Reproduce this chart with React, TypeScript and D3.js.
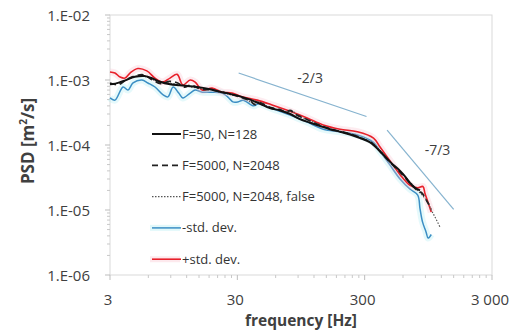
import React, { useRef, useEffect } from "react";
import * as d3 from "d3";

// [frequency Hz, PSD m²/s]
const f50n128: [number, number][] = [
  [3.0, 8.6e-4], [3.3, 8.8e-4], [3.9, 9.8e-4], [4.7, 1.12e-3], [5.6, 1.15e-3],
  [6.5, 1.05e-3], [7.4, 9.4e-4], [8.9, 8.6e-4], [10.6, 8.3e-4], [12.8, 8.0e-4],
  [15.3, 7.7e-4], [18.3, 7.2e-4], [21.9, 6.6e-4], [26.3, 6.1e-4], [31.5, 5.6e-4],
  [37.8, 5.0e-4], [45.3, 4.3e-4], [54, 3.7e-4], [65, 3.4e-4], [78, 3.0e-4],
  [93, 2.5e-4], [112, 2.2e-4], [134, 1.95e-4], [160, 1.75e-4], [192, 1.6e-4],
  [230, 1.45e-4], [276, 1.28e-4], [331, 1.1e-4], [396, 8.0e-5], [475, 5.5e-5],
  [569, 4.0e-5], [622, 3.3e-5], [681, 2.6e-5], [746, 2.2e-5], [816, 2.0e-5],
];

const f5000n2048: [number, number][] = [
  [3.0, 9.0e-4], [3.5, 8.5e-4], [4.0, 1.0e-3], [4.7, 1.15e-3], [5.5, 1.2e-3],
  [6.5, 1.0e-3], [7.5, 8.8e-4], [8.8, 9.5e-4], [10.2, 9.0e-4], [11.5, 7.8e-4],
  [13, 8.3e-4], [15.5, 7.3e-4], [19, 7.0e-4], [23, 6.5e-4], [27, 6.0e-4],
  [32, 5.4e-4], [38, 4.8e-4], [41, 4.2e-4], [45, 4.5e-4], [54, 3.8e-4],
  [65, 3.5e-4], [72, 3.2e-4], [78, 3.4e-4], [85, 3.0e-4], [100, 2.6e-4],
  [120, 2.2e-4], [140, 1.95e-4], [165, 1.75e-4], [200, 1.58e-4], [240, 1.45e-4],
  [290, 1.25e-4], [340, 1.08e-4], [400, 7.8e-5], [480, 5.3e-5], [570, 3.8e-5],
  [680, 2.6e-5], [780, 2.0e-5], [850, 1.8e-5], [900, 1.5e-5], [950, 1.25e-5],
  [1000, 1.05e-5],
];

const f5000false: [number, number][] = [
  [3.0, 8.8e-4], [3.6, 9.0e-4], [4.2, 1.05e-3], [5.0, 1.15e-3], [6.0, 1.1e-3],
  [7.0, 9.5e-4], [8.5, 9.0e-4], [10, 8.6e-4], [12, 8.0e-4], [15, 7.5e-4],
  [19, 7.0e-4], [23, 6.4e-4], [28, 5.9e-4], [34, 5.2e-4], [40, 4.4e-4],
  [44, 4.6e-4], [52, 3.9e-4], [62, 3.5e-4], [75, 3.2e-4], [80, 3.4e-4],
  [90, 2.8e-4], [110, 2.4e-4], [135, 2.0e-4], [165, 1.75e-4], [200, 1.6e-4],
  [250, 1.42e-4], [300, 1.22e-4], [350, 1.05e-4], [400, 8.0e-5], [480, 5.4e-5],
  [570, 3.9e-5], [680, 2.7e-5], [780, 2.0e-5], [850, 1.7e-5], [940, 1.3e-5],
  [1000, 1.0e-5], [1070, 7.8e-6], [1170, 5.5e-6],
];

const minusStd: [number, number][] = [
  [3.0, 5.3e-4], [3.28, 4.9e-4], [3.8, 7.8e-4], [4.15, 7.0e-4], [4.55, 9.0e-4],
  [5.35, 1.0e-3], [5.95, 9.0e-4], [6.77, 7.8e-4], [7.85, 5.9e-4], [8.55, 5.5e-4],
  [9.4, 7.8e-4], [10.4, 6.3e-4], [11.2, 5.3e-4], [12.8, 6.3e-4], [14.0, 7.0e-4],
  [15.9, 6.5e-4], [19.0, 6.5e-4], [22.8, 6.3e-4], [25.2, 5.5e-4], [27.7, 4.6e-4],
  [30.3, 4.6e-4], [33.3, 4.9e-4], [40.4, 4.0e-4], [44, 4.3e-4], [57, 3.6e-4],
  [78, 2.9e-4], [106, 2.25e-4], [142, 1.75e-4], [192, 1.6e-4], [263, 1.43e-4],
  [352, 1.1e-4], [396, 8.0e-5], [475, 4.9e-5], [569, 3.0e-5], [681, 2.1e-5],
  [783, 1.7e-5], [816, 1.05e-5], [855, 6.5e-6], [910, 4.6e-6], [945, 3.7e-6],
  [1000, 4.2e-6],
];

const plusStd: [number, number][] = [
  [3.0, 1.33e-3], [3.28, 1.28e-3], [3.6, 1.11e-3], [3.94, 1.07e-3], [4.31, 1.28e-3],
  [4.96, 1.5e-3], [5.84, 1.38e-3], [6.77, 1.07e-3], [7.75, 9.3e-4], [8.88, 1.07e-3],
  [10.1, 1.22e-3], [11.2, 8.4e-4], [12.8, 1.0e-3], [14.0, 9.3e-4], [15.9, 7.0e-4],
  [19.0, 7.5e-4], [22.8, 6.5e-4], [27.3, 6.3e-4], [32.8, 5.5e-4], [43, 4.9e-4],
  [57, 4.1e-4], [78, 3.3e-4], [106, 2.6e-4], [142, 2.03e-4], [192, 1.75e-4],
  [263, 1.6e-4], [352, 1.28e-4], [396, 9.3e-5], [475, 5.7e-5], [569, 3.5e-5],
  [681, 2.4e-5], [783, 2.2e-5], [860, 2.3e-5], [893, 1.8e-5], [945, 1.3e-5],
  [1000, 9.3e-6],
];

// reference slopes: start freq, end freq, start PSD, exponent, label position
const slopes = [
  { f0: 30.7, f1: 310, p0: 1.28e-3, k: -2 / 3, label: "-2/3", lf: 112, lp: 9.0e-4 },
  { f0: 450, f1: 1500, p0: 1.7e-4, k: -7 / 3, label: "-7/3", lf: 1120, lp: 7.0e-5 },
];

const xTicks = [3, 30, 300, 3000];
const xTickLabels = ["3", "30", "300", "3 000"];
const yTicks = [1e-6, 1e-5, 1e-4, 1e-3, 1e-2];
const yTickLabels = ["1.E-06", "1.E-05", "1.E-04", "1.E-03", "1.E-02"];

const series = [
  { name: "-std. dev.", data: minusStd, color: "#3b8ec4", width: 1.5, dash: null, glow: "#a8eaf2" },
  { name: "+std. dev.", data: plusStd, color: "#e8202a", width: 1.6, dash: null, glow: "#f8c0cc" },
  { name: "F=5000, N=2048, false", data: f5000false, color: "#555", width: 1.2, dash: "1.5,1.5", glow: null },
  { name: "F=5000, N=2048", data: f5000n2048, color: "#222", width: 1.8, dash: "6,4", glow: null },
  { name: "F=50, N=128", data: f50n128, color: "#111", width: 2, dash: null, glow: null },
];
const legendOrder = ["F=50, N=128", "F=5000, N=2048", "F=5000, N=2048, false", "-std. dev.", "+std. dev."];

const App = () => {
  const svgRef = useRef<SVGSVGElement>(null);

  useEffect(() => {
    const svg = d3.select(svgRef.current);
    svg.selectAll("*").remove();
    const font = "'Open Sans', Lato, sans-serif";

    const x = d3.scaleLog().domain([3, 3000]).range([110, 492]);
    const y = d3.scaleLog().domain([1e-6, 1e-2]).range([275, 15]);

    // plot frame
    svg.append("rect")
      .attr("x", 110).attr("y", 15).attr("width", 382).attr("height", 260)
      .attr("fill", "none").attr("stroke", "#d9d9d9");

    // y minor + major ticks
    const yMinor: number[] = [];
    for (let e = -6; e < -2; e++) for (let m = 2; m <= 9; m++) yMinor.push(m * Math.pow(10, e));
    svg.append("g").selectAll("line").data(yMinor).enter().append("line")
      .attr("x1", 107).attr("x2", 110)
      .attr("y1", (d) => y(d)).attr("y2", (d) => y(d))
      .attr("stroke", "#c8c8c8");
    svg.append("g").selectAll("line").data(yTicks).enter().append("line")
      .attr("x1", 105).attr("x2", 110)
      .attr("y1", (d) => y(d)).attr("y2", (d) => y(d))
      .attr("stroke", "#bdbdbd");
    svg.append("g").selectAll("text").data(yTicks).enter().append("text")
      .attr("x", 90).attr("y", (d) => y(d) + 5.5)
      .attr("text-anchor", "end").attr("font-family", font).attr("font-size", 15)
      .attr("fill", "#404040")
      .text((d, i) => yTickLabels[i]);

    // x minor + major ticks
    const xMinor: number[] = [];
    [3, 30, 300].forEach((b) => { for (let m = 2; m <= 9; m++) xMinor.push(m * b); });
    svg.append("g").selectAll("line").data(xMinor).enter().append("line")
      .attr("x1", (d) => x(d)).attr("x2", (d) => x(d))
      .attr("y1", 275).attr("y2", 278)
      .attr("stroke", "#c8c8c8");
    svg.append("g").selectAll("line").data(xTicks).enter().append("line")
      .attr("x1", (d) => x(d)).attr("x2", (d) => x(d))
      .attr("y1", 275).attr("y2", 280)
      .attr("stroke", "#bdbdbd");
    svg.append("g").selectAll("text").data(xTicks).enter().append("text")
      .attr("x", (d) => x(d) - 2).attr("y", 305)
      .attr("text-anchor", "middle").attr("font-family", font).attr("font-size", 15)
      .attr("fill", "#404040")
      .text((d, i) => xTickLabels[i]);

    // axis titles
    svg.append("text")
      .attr("x", 301).attr("y", 326)
      .attr("text-anchor", "middle").attr("font-family", font).attr("font-size", 15.5)
      .attr("font-weight", "bold").attr("fill", "#404040")
      .text("frequency [Hz]");
    const yl = svg.append("text")
      .attr("transform", "translate(34,141) rotate(-90)")
      .attr("text-anchor", "middle").attr("font-family", font).attr("font-size", 17)
      .attr("font-weight", "bold").attr("fill", "#404040");
    yl.append("tspan").text("PSD [m");
    yl.append("tspan").attr("font-size", 10).attr("dy", -7).text("2");
    yl.append("tspan").attr("dy", 7).text("/s]");

    // slope reference lines
    slopes.forEach((s) => {
      const p1 = s.p0 * Math.pow(s.f1 / s.f0, s.k);
      svg.append("line")
        .attr("x1", x(s.f0)).attr("y1", y(s.p0))
        .attr("x2", x(s.f1)).attr("y2", y(p1))
        .attr("stroke", "#86b3cf").attr("stroke-width", 1.2);
      svg.append("text")
        .attr("x", x(s.lf)).attr("y", y(s.lp))
        .attr("text-anchor", "middle").attr("font-family", font).attr("font-size", 14)
        .attr("fill", "#404040")
        .text(s.label);
    });

    const line = d3.line<[number, number]>()
      .x((d) => x(d[0])).y((d) => y(d[1]))
      .curve(d3.curveCatmullRom.alpha(0.5));

    series.forEach((s) => {
      if (s.glow) {
        svg.append("path").attr("d", line(s.data))
          .attr("fill", "none").attr("stroke", s.glow)
          .attr("stroke-width", 7).attr("stroke-opacity", 0.3)
          .attr("stroke-linejoin", "round");
      }
      const p = svg.append("path").attr("d", line(s.data))
        .attr("fill", "none").attr("stroke", s.color)
        .attr("stroke-width", s.width).attr("stroke-linejoin", "round");
      if (s.dash) p.attr("stroke-dasharray", s.dash);
    });

    // legend
    const lg = svg.append("g");
    legendOrder.forEach((name, i) => {
      const s = series.find((d) => d.name === name)!;
      const ly = 134 + i * 31.3;
      if (s.glow) {
        lg.append("line").attr("x1", 150).attr("x2", 180).attr("y1", ly).attr("y2", ly)
          .attr("stroke", s.glow).attr("stroke-width", 6).attr("stroke-opacity", 0.35);
      }
      const l = lg.append("line").attr("x1", 152).attr("x2", 181).attr("y1", ly).attr("y2", ly)
        .attr("stroke", s.color).attr("stroke-width", s.width);
      if (s.dash) l.attr("stroke-dasharray", s.dash);
      lg.append("text")
        .attr("x", 182).attr("y", ly + 4.5)
        .attr("font-family", font).attr("font-size", 13).attr("fill", "#333")
        .text(name);
    });
  }, []);

  return (
    <svg
      ref={svgRef}
      width={524}
      height={335}
      style={{ position: "absolute", left: 0, top: 0, background: "#fff" }}
    ></svg>
  );
};

export default App;
